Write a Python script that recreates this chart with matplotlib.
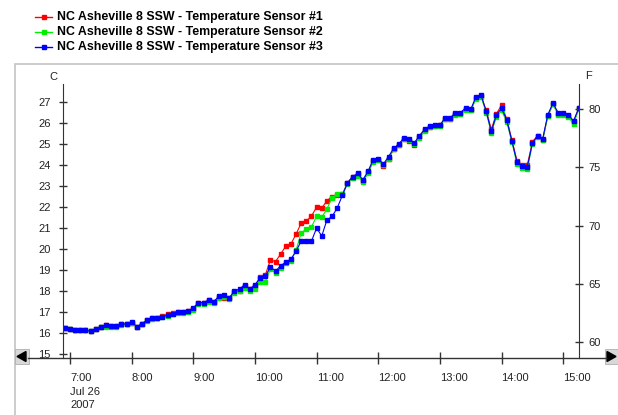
import matplotlib
matplotlib.use("Agg")
import matplotlib.pyplot as plt
import pandas as pd
from matplotlib.lines import Line2D
from matplotlib.patches import Rectangle, Polygon

plt.rcParams['font.family'] = ['Liberation Sans', 'DejaVu Sans']

# readings every 5 minutes, Jul 26 2007, 06:55 - 15:15 (deg C)
times = pd.date_range("2007-07-26 06:55", "2007-07-26 15:15", freq="5min")

sensor1 = [16.24, 16.2, 16.14, 16.12, 16.14, 16.08, 16.18, 16.28, 16.36, 16.33, 16.33, 16.43, 16.43,
           16.5, 16.3, 16.45, 16.6, 16.7, 16.72, 16.82, 16.9, 16.97, 16.98, 16.98, 17.05,
           17.15, 17.42, 17.42, 17.55, 17.48, 17.72, 17.68, 17.66, 17.95, 18.02, 18.25, 18.1,
           18.25, 18.65, 18.75, 19.48, 19.4, 19.76, 20.14, 20.24, 20.71, 21.24, 21.33, 21.57,
           22.0, 21.95, 22.3, 22.5, 22.57, 22.6, 23.15, 23.45, 23.55, 23.25, 23.65, 24.2,
           24.25, 23.95, 24.3, 24.75, 24.95, 25.25, 25.15, 24.95, 25.35, 25.65, 25.8, 25.85,
           25.9, 26.2, 26.2, 26.45, 26.45, 26.65, 26.6, 27.2, 27.3, 26.6, 25.7, 26.45,
           26.85, 26.2, 25.2, 24.2, 24.0, 24.0, 25.1, 25.4, 25.2, 26.35, 26.9, 26.45,
           26.45, 26.35, 26.05, 26.7]

sensor2 = [16.22, 16.18, 16.14, 16.12, 16.14, 16.08, 16.18, 16.28, 16.3, 16.3, 16.3, 16.4, 16.43,
           16.5, 16.3, 16.42, 16.58, 16.68, 16.7, 16.75, 16.82, 16.9, 16.95, 16.95, 17.0,
           17.1, 17.38, 17.4, 17.5, 17.42, 17.68, 17.7, 17.6, 17.92, 18.0, 18.15, 17.98,
           18.1, 18.42, 18.45, 19.05, 18.86, 19.1, 19.33, 19.43, 19.95, 20.76, 20.95, 21.05,
           21.57, 21.52, 21.9, 22.45, 22.6, 22.6, 23.1, 23.4, 23.5, 23.2, 23.6, 24.15,
           24.25, 24.0, 24.3, 24.75, 24.95, 25.25, 25.2, 25.0, 25.3, 25.6, 25.8, 25.85,
           25.85, 26.2, 26.2, 26.4, 26.45, 26.62, 26.6, 27.15, 27.25, 26.5, 25.55, 26.3,
           26.6, 26.05, 25.1, 24.05, 23.85, 23.8, 25.0, 25.35, 25.2, 26.35, 26.9, 26.4,
           26.4, 26.3, 25.95, 26.65]

sensor3 = [16.24, 16.2, 16.14, 16.12, 16.14, 16.08, 16.18, 16.28, 16.38, 16.33, 16.33, 16.43, 16.43,
           16.53, 16.3, 16.43, 16.62, 16.72, 16.72, 16.76, 16.86, 16.9, 16.98, 16.98, 17.05,
           17.2, 17.45, 17.45, 17.58, 17.5, 17.76, 17.8, 17.68, 18.0, 18.1, 18.3, 18.1,
           18.3, 18.62, 18.7, 19.14, 18.95, 19.2, 19.38, 19.52, 19.9, 20.38, 20.38, 20.38,
           21.0, 20.62, 21.38, 21.55, 21.95, 22.55, 23.15, 23.45, 23.6, 23.3, 23.7, 24.25,
           24.3, 24.05, 24.4, 24.8, 25.0, 25.3, 25.25, 25.05, 25.4, 25.7, 25.85, 25.9,
           25.9, 26.25, 26.25, 26.5, 26.5, 26.72, 26.65, 27.25, 27.33, 26.57, 25.6, 26.4,
           26.7, 26.15, 25.15, 24.15, 23.95, 23.9, 25.05, 25.4, 25.25, 26.4, 26.95, 26.5,
           26.5, 26.4, 26.1, 26.7]

names = ["NC Asheville 8 SSW - Temperature Sensor #1",
         "NC Asheville 8 SSW - Temperature Sensor #2",
         "NC Asheville 8 SSW - Temperature Sensor #3"]
colors = ["#ff0000", "#00ee00", "#0000ff"]

c_ticks = [15, 16, 17, 18, 19, 20, 21, 22, 23, 24, 25, 26, 27]
f_ticks = [60, 65, 70, 75, 80]
x_ticks = pd.date_range("2007-07-26 07:00", "2007-07-26 15:00", freq="1h")
x_labels = ["7:00\nJul 26\n2007"] + ["%d:00" % h for h in range(8, 16)]

W, H = 618, 415
def fx(px):
    return px / W
def fy(py):
    return 1 - py / H

fig = plt.figure(figsize=(W / 100, H / 100), dpi=100)
axcol = "#333333"

# grey panel frame around the plot
fig.patches.append(Rectangle((fx(15), -0.1), 1.0, fy(64) + 0.1, transform=fig.transFigure,
                             facecolor="none", edgecolor="#c4c4c4", lw=1.2, zorder=-5))

ax = fig.add_axes([fx(63), fy(358), fx(579) - fx(63), fy(84) - fy(358)])
ax.patch.set_alpha(0)

for vals, col, name in zip([sensor1, sensor2, sensor3], colors, names):
    ax.plot(times, vals, color=col, lw=0.8, marker="s", ms=2.5, mec=col, mfc=col, label=name)

t0 = pd.Timestamp("2007-07-26 06:53:12")
t1 = pd.Timestamp("2007-07-26 15:15:20")
ax.set_xlim(t0, t1)
ax.set_ylim(14.81, 27.86)
ax.set_yticks(c_ticks)
ax.set_xticks(x_ticks)
ax.set_xticklabels(x_labels, ha="left", va="top", multialignment="left", linespacing=1.45)

for s in ["top", "right", "bottom"]:
    ax.spines[s].set_visible(False)
ax.spines["left"].set_color(axcol)
ax.tick_params(axis="y", direction="inout", length=6, width=1, color=axcol,
               labelsize=8, pad=6, labelcolor="#222222")
ax.tick_params(axis="x", direction="inout", length=8, width=1, color=axcol,
               labelsize=8, pad=7, labelcolor="#222222")

ax2 = ax.twinx()
ax2.set_ylim(14.81 * 9 / 5 + 32, 27.86 * 9 / 5 + 32)
ax2.set_yticks(f_ticks)
for s in ["top", "left", "bottom"]:
    ax2.spines[s].set_visible(False)
ax2.spines["right"].set_color(axcol)
ax2.tick_params(axis="y", direction="inout", length=6, width=1, color=axcol,
                labelsize=8, pad=4, labelcolor="#222222")

# extended x axis line with scroll buttons
fig.add_artist(Line2D([fx(28), fx(606)], [fy(358), fy(358)], color=axcol, lw=1,
                      transform=fig.transFigure))
fig.patches.append(Rectangle((fx(15), fy(364)), fx(14), fy(349) - fy(364), transform=fig.transFigure,
                             facecolor="#d8d8d8", edgecolor="#b0b0b0", lw=0.6))
fig.patches.append(Polygon([(fx(17), fy(356.5)), (fx(26), fy(351.5)), (fx(26), fy(361.5))],
                           closed=True, transform=fig.transFigure, color="black"))
fig.patches.append(Rectangle((fx(605), fy(364)), fx(14), fy(349) - fy(364), transform=fig.transFigure,
                             facecolor="#d8d8d8", edgecolor="#b0b0b0", lw=0.6))
fig.patches.append(Polygon([(fx(616), fy(356.5)), (fx(607), fy(351.5)), (fx(607), fy(361.5))],
                           closed=True, transform=fig.transFigure, color="black"))

fig.text(fx(53), fy(77), "C", fontsize=8, ha="center", va="center", color="#222222")
fig.text(fx(588), fy(76), "F", fontsize=8, ha="center", va="center", color="#222222")

# legend at the top
for i, (col, name) in enumerate(zip(colors, names)):
    yy = fy(17 + 15 * i)
    fig.add_artist(Line2D([fx(35), fx(52)], [yy, yy], color=col, lw=1.0,
                          transform=fig.transFigure))
    fig.add_artist(Line2D([fx(43.5)], [yy], color=col, marker="s", ms=2.4,
                          transform=fig.transFigure))
    fig.text(fx(57), yy, name, fontsize=8.9, fontweight="bold", ha="left", va="center",
             color="black")

fig.savefig("out.png", dpi=100)
